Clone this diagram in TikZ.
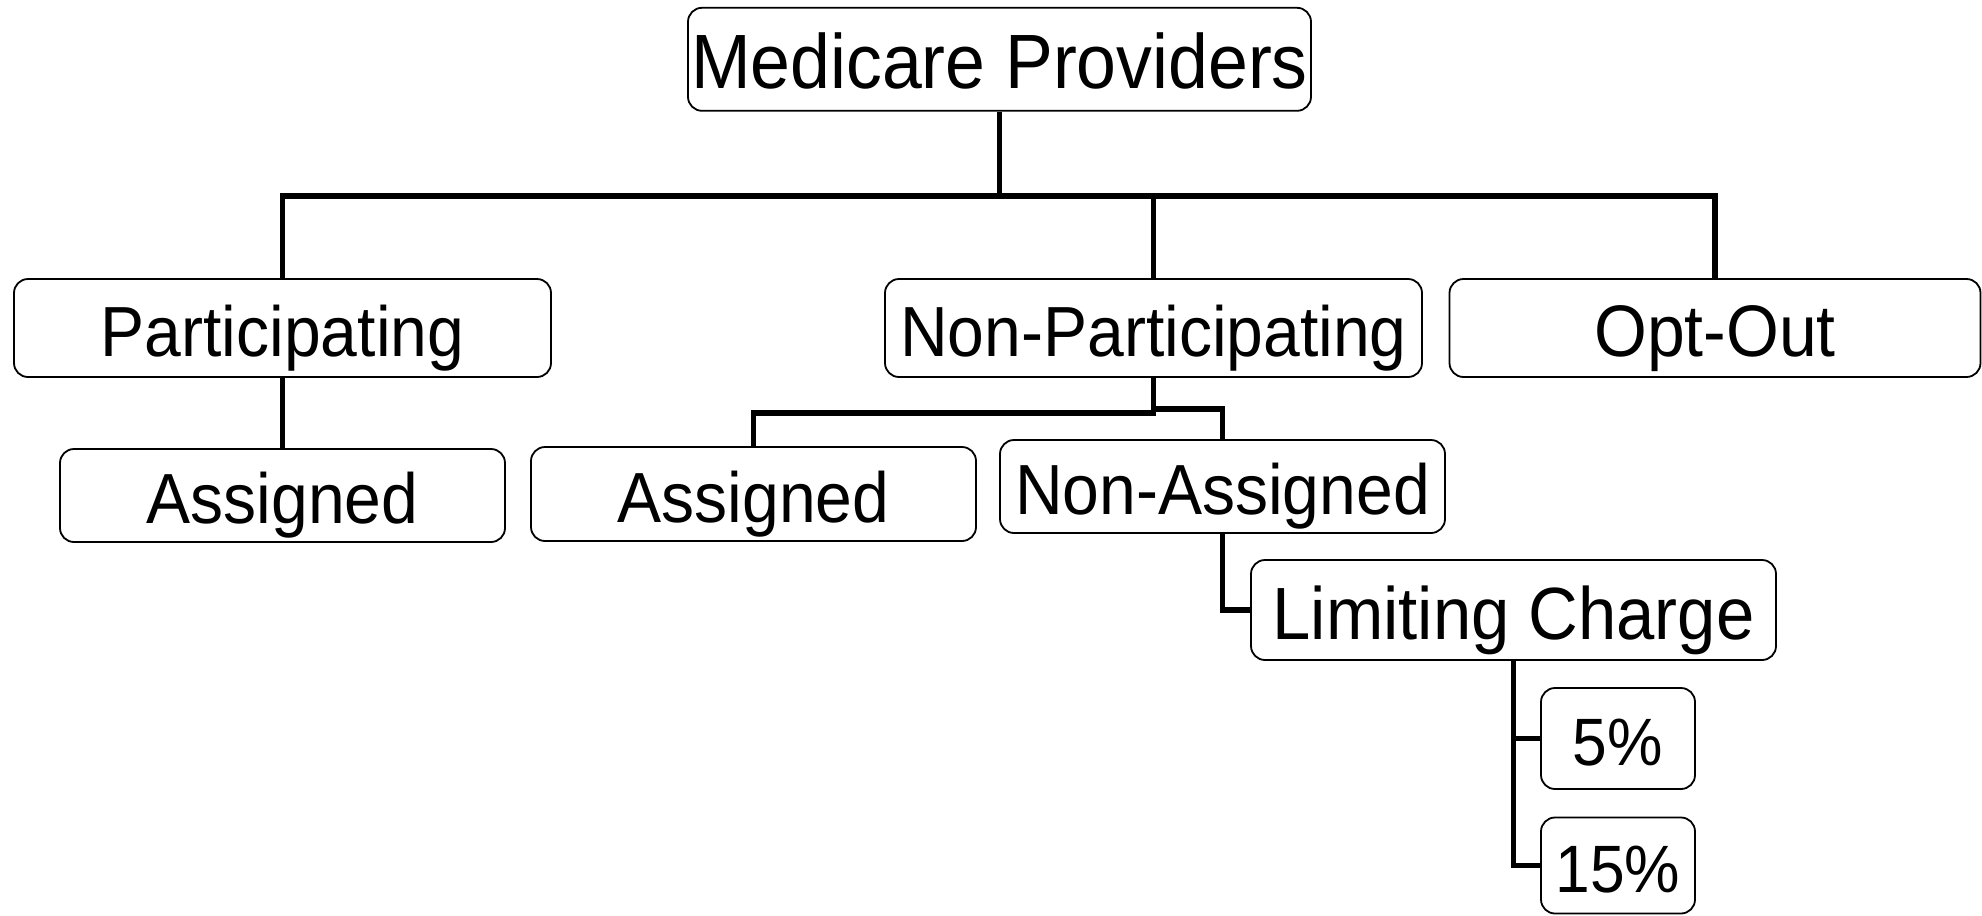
\documentclass[tikz,border=0pt]{standalone}
\usepackage{fontspec}
\setmainfont{Liberation Sans}
\newcommand\bxt[2]{\scalebox{0.93}[1]{\fontsize{#1}{#1}\selectfont #2}}
\tikzset{
  bx/.style={draw=black, line width=1.8pt, rounded corners=14pt, fill=white,
    inner sep=0pt, anchor=center, text depth=0pt},
  conn/.style={draw=black, line width=5.5pt},
}
\begin{document}
\begin{tikzpicture}[x=1pt,y=-1pt]
\useasboundingbox (0,0) rectangle (1982,916);
% boxes
\node[bx, minimum width=623pt, minimum height=103pt, text height=59pt] (mp) at (999.5,59.3) {\bxt{77}{Medicare Providers}};
\node[bx, minimum width=537pt, minimum height=98pt, text height=56pt] (part) at (282.5,328) {\bxt{71}{Participating}};
\node[bx, minimum width=537pt, minimum height=98pt, text height=56pt] (np) at (1153.5,328) {\bxt{71}{Non-Participating}};
\node[bx, minimum width=531pt, minimum height=98pt, text height=57pt] (opt) at (1715,328) {\bxt{73}{Opt-Out}};
\node[bx, minimum width=445pt, minimum height=93pt, text height=56pt] (a1) at (282.5,495.5) {\bxt{71}{Assigned}};
\node[bx, minimum width=445pt, minimum height=94pt, text height=56pt] (a2) at (753.5,494) {\bxt{71}{Assigned}};
\node[bx, minimum width=445pt, minimum height=93pt, text height=56pt] (na) at (1222.5,486.5) {\bxt{71}{Non-Assigned}};
\node[bx, minimum width=525pt, minimum height=100pt, text height=58pt] (lc) at (1513.5,610) {\bxt{74}{Limiting Charge}};
\node[bx, minimum width=154pt, minimum height=101pt, text height=53pt] (p5) at (1618,738.5) {\bxt{67}{5\%}};
\node[bx, minimum width=154pt, minimum height=96pt, text height=53pt] (p15) at (1618,865.5) {\bxt{67}{15\%}};
% connectors
\coordinate (hub) at (999.5,196);
\draw[conn] (mp.south) -- (hub);
\draw[conn] (part.north) |- (hub);
\draw[conn] (hub) -| (opt.north);
\draw[conn] (np.north) -- (np.north |- hub);
\draw[conn] (part.south) -- (a1.north);
\draw[conn] (np.south) -- ++(0,35) -| (a2.north);
\draw[conn] (np.south) -- ++(0,31) -| (na.north);
\draw[conn] (na.south) |- (lc.west);
\draw[conn] (lc.south) |- (p5.west);
\draw[conn] (lc.south) |- (p15.west);
\end{tikzpicture}
\end{document}
